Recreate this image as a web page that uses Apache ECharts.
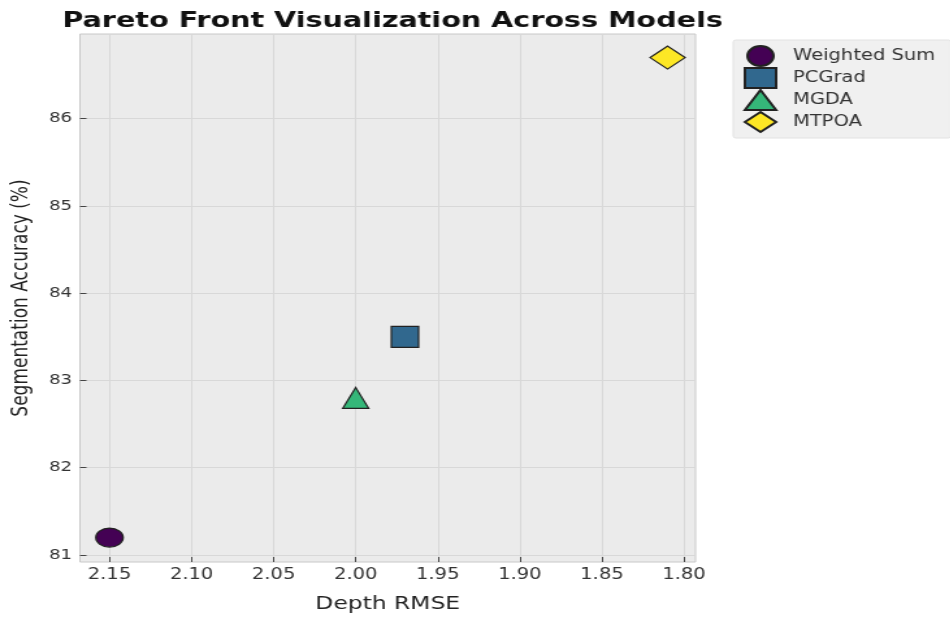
<!DOCTYPE html>
<html><head><meta charset="utf-8">
<script src="https://cdn.jsdelivr.net/npm/echarts@6/dist/echarts.min.js"></script>
<style>
html,body{margin:0;padding:0;background:#fff;overflow:hidden}
#wrap{width:950px;height:618px;overflow:hidden}
#c{width:731px;height:618px;transform:scaleX(1.3);transform-origin:0 0}
</style>
</head><body><div id="wrap"><div id="c"></div></div>
<script>
const models = ["Weighted Sum", "PCGrad", "MGDA", "MTPOA"];
const depthRMSE = [2.15, 1.97, 2.00, 1.81];
const segAcc = [81.2, 83.5, 82.8, 86.7];
const colors = ["#440154", "#31688e", "#35b779", "#fde725"];
const symbols = ["circle", "rect", "triangle", "diamond"];
const symbolSizes = [[21, 19], [21, 21], [20, 21], [27, 23]];
const xTicks = [2.15, 2.10, 2.05, 2.00, 1.95, 1.90, 1.85, 1.80];
const yTicks = [81, 82, 83, 84, 85, 86];

const font = "DejaVu Sans";
const chart = echarts.init(document.getElementById('c'));
chart.setOption({
  animation: false,
  title: {
    text: "Pareto Front Visualization Across Models",
    left: 297, top: 5, textAlign: 'center',
    textStyle: {fontFamily: font, fontWeight: 'bold', fontSize: 22, color: '#111'}
  },
  legend: {
    orient: 'vertical', left: 564, top: 40,
    backgroundColor: '#f0f0f0', borderColor: '#e2e2e2', borderWidth: 1, borderRadius: 2,
    padding: [5, 12, 5, 8], itemGap: 0, itemWidth: 24, itemHeight: 20,
    textStyle: {fontFamily: font, fontSize: 15, color: '#333', padding: [0, 0, 0, 8]},
    data: models.map((m, i) => ({name: m, icon: symbols[i]}))
  },
  grid: {left: 61.5, right: 196, top: 34, bottom: 48, show: true,
    backgroundColor: '#ebebeb', borderColor: '#c8c8c8', borderWidth: 1},
  xAxis: {
    type: 'value', inverse: true, min: 1.793, max: 2.168,
    name: 'Depth RMSE', nameLocation: 'middle', nameGap: 33,
    nameTextStyle: {fontFamily: font, fontSize: 18, color: '#222'},
    axisLine: {show: false},
    axisTick: {show: true, length: 5, inside: true, customValues: xTicks, lineStyle: {color: '#444'}},
    axisLabel: {customValues: xTicks, fontFamily: font, fontSize: 15, color: '#333', margin: 6,
      formatter: v => v.toFixed(2)},
    splitLine: {show: true, lineStyle: {color: '#d8d8d8', width: 1}}
  },
  yAxis: {
    type: 'value', min: 80.92, max: 86.97,
    name: 'Segmentation Accuracy (%)', nameLocation: 'middle', nameGap: 36,
    nameTextStyle: {fontFamily: font, fontSize: 17, color: '#222'},
    axisLine: {show: false},
    axisTick: {show: true, length: 5, inside: true, customValues: yTicks, lineStyle: {color: '#444'}},
    axisLabel: {customValues: yTicks, fontFamily: font, fontSize: 14, color: '#333', margin: 6},
    splitLine: {show: true, lineStyle: {color: '#d8d8d8', width: 1}}
  },
  series: models.map((m, i) => ({
    name: m, type: 'scatter',
    symbol: symbols[i], symbolSize: symbolSizes[i],
    itemStyle: {color: colors[i], borderColor: '#222', borderWidth: 1.2, opacity: 1},
    data: [[depthRMSE[i], segAcc[i]]]
  }))
});
</script></body></html>
